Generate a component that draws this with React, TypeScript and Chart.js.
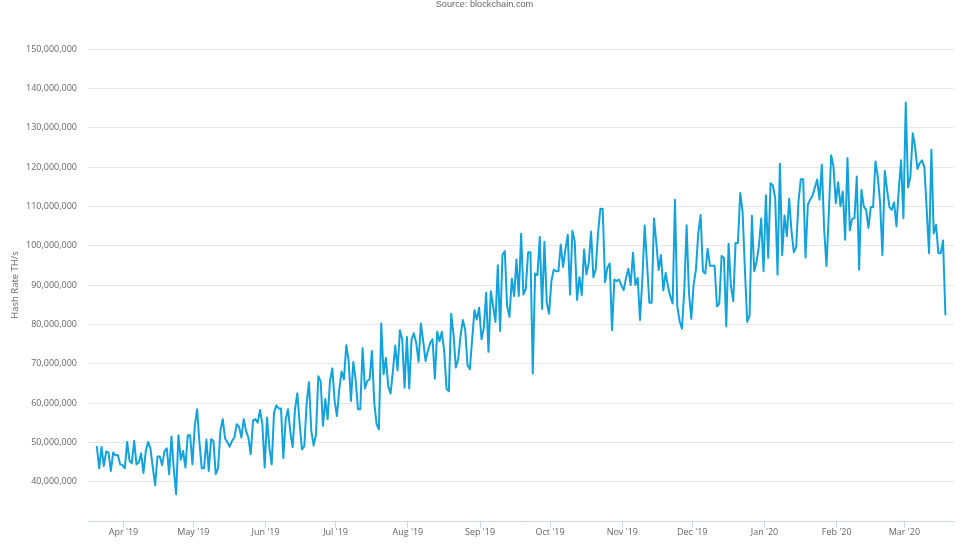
import { useEffect, useRef } from 'react'
import { Chart, registerables } from 'chart.js'

Chart.register(...registerables)

// days since 1 Apr '19 for each month tick
const monthDays = [0, 30, 61, 91, 122, 153, 183, 214, 244, 275, 306, 335]
const monthLabels = ["Apr '19", "May '19", "Jun '19", "Jul '19", "Aug '19", "Sep '19", "Oct '19", "Nov '19", "Dec '19", "Jan '20", "Feb '20", "Mar '20"]
const yTicks = [40, 50, 60, 70, 80, 90, 100, 110, 120, 130, 140, 150]

const firstDay = -11.4

// daily hash rate, millions of TH/s
const hashRate = [
  48.9, 43.4, 48.8, 44, 47.7, 47.4, 42.7, 47.4, 46.7, 46.8,
  44.4, 44.2, 43.4, 50.1, 45.3, 44.7, 50.4, 44.4, 44.9, 47.2,
  42.2, 47.8, 50.1, 48.4, 43.6, 39.1, 46.4, 46.4, 44.2, 47.7,
  48.5, 41.9, 51.5, 43.2, 36.8, 51.8, 45.6, 47.8, 43.6, 51.8,
  51.8, 44.4, 54.2, 58.4, 50, 43.4, 43.4, 50.7, 42.7, 50.8,
  50.4, 41.9, 43.4, 52.9, 55.9, 51, 50, 48.9, 50.4, 51.2,
  54.6, 54, 51.2, 55.9, 52.9, 51.2, 47, 55.5, 55.9, 55,
  58.2, 54.6, 43.6, 56.3, 48.7, 44.4, 57.5, 59.4, 58.6, 58.6,
  46, 55.9, 58.4, 52.5, 48.8, 58.4, 62.5, 54.6, 48.2, 49,
  60, 65.3, 52.9, 49.2, 52, 66.8, 65.5, 54.2, 61, 55.9,
  65.6, 68.8, 60.5, 56.7, 63.5, 68, 66, 74.7, 70.7, 60.5,
  70.4, 66, 58.4, 58.4, 74, 63.7, 65.6, 66, 73.2, 60.1,
  54.6, 53.3, 80.2, 67.3, 71.5, 64.3, 62.4, 68.1, 74.6, 68.3,
  78.5, 76.2, 63.9, 76.8, 63.7, 76.2, 77.7, 75.3, 70.5, 80.2,
  75.7, 70.7, 73.2, 75.3, 76.2, 66.2, 78.1, 75.7, 78.1, 73.2,
  63.6, 63, 82.7, 77.4, 69, 71.1, 77, 81.1, 78.7, 69.6,
  68.6, 76.2, 83.6, 81.2, 84.2, 76.2, 79.1, 88, 73, 88.4,
  84.6, 80.6, 95, 78.3, 97.7, 98.6, 84.6, 81.9, 91.6, 87.2,
  96.5, 87.2, 103, 87.6, 89, 98.3, 98.3, 67.5, 92.9, 92.5,
  102.2, 83.9, 101, 85.5, 82.7, 91, 93.9, 93.5, 93.5, 100.3,
  94.6, 99, 102.8, 87.6, 103.8, 101.1, 86.2, 92, 87.4, 99,
  92.7, 95.6, 103.6, 92, 93.9, 103.2, 109.4, 109.3, 90.7, 94.4,
  95.5, 78.5, 91.4, 91, 91.4, 89.9, 88.7, 91.8, 94.1, 90,
  98.2, 90, 91.8, 81.1, 91.4, 105.1, 95.6, 85.5, 85.5, 106.9,
  100.7, 93.8, 97.6, 88.6, 93.1, 89.7, 87.1, 85.3, 111.7, 84.6,
  80.8, 78.9, 88.8, 105.2, 88, 81.4, 90.1, 93.9, 103.2, 107.8,
  93.5, 92.9, 99.2, 94.9, 94.9, 94.9, 84.6, 85.3, 97.4, 96.9,
  79.5, 100.5, 89.7, 85.9, 100.7, 100.7, 113.4, 108.7, 93.9, 80.6,
  82.2, 107.6, 93.5, 96, 99.8, 106.9, 93.5, 112.8, 96.9, 115.9,
  115.3, 112.1, 92.6, 120.8, 97.6, 107.7, 102.4, 111.9, 103.6, 98.3,
  99.7, 111.3, 116.9, 116.9, 97, 110.4, 111.7, 112.7, 114.8, 116.8,
  111.7, 120.6, 104.1, 94.8, 108.3, 123, 120.1, 110.8, 116.1, 110,
  113.8, 101.5, 122.3, 103.9, 106.8, 107, 117.6, 93.9, 114.2, 110,
  109.1, 104.5, 109.8, 109.8, 121.4, 117.6, 110.8, 97.6, 119, 114.2,
  109.8, 109.1, 111, 104.9, 114.2, 121.7, 107, 136.4, 114.8, 117.6,
  128.6, 125.2, 119.5, 121, 121.7, 119.9, 109.1, 98.1, 124.4, 103.1,
  105.3, 98.1, 98.1, 101.3, 82.5,
]

const labelColor = '#666666'
const labelFont = { family: 'Open Sans', size: 9 }

// the source line sits centred on the page, not on the plot
const sourceLine = {
  id: 'sourceLine',
  afterDraw(chart: Chart) {
    const { ctx } = chart
    ctx.save()
    ctx.font = '9.2px "Liberation Sans"'
    ctx.fillStyle = labelColor
    ctx.textAlign = 'center'
    ctx.textBaseline = 'middle'
    ctx.fillText('Source: blockchain.com', 484.5, 4.5)
    ctx.restore()
  },
}

export default function App() {
  const canvasRef = useRef<HTMLCanvasElement>(null)

  useEffect(() => {
    const canvas = canvasRef.current
    if (!canvas) return

    const chart = new Chart(canvas, {
      type: 'line',
      data: {
        datasets: [
          {
            label: 'Hash Rate TH/s',
            data: hashRate.map((v, i) => ({ x: firstDay + i, y: v * 1e6 })),
            borderColor: '#13a3dc',
            borderWidth: 2,
            borderJoinStyle: 'round',
            borderCapStyle: 'round',
            pointRadius: 0,
            tension: 0,
            fill: false,
          },
        ],
      },
      plugins: [sourceLine],
      options: {
        animation: false,
        responsive: false,
        layout: { padding: { top: 49, left: 0, right: 12, bottom: 0 } },
        plugins: {
          legend: { display: false },
          tooltip: { enabled: false },
        },
        scales: {
          x: {
            type: 'linear',
            min: -15.2,
            max: 356.3,
            afterBuildTicks: (axis: any) => {
              axis.ticks = monthDays.map((d) => ({ value: d }))
            },
            afterFit: (axis: any) => {
              axis.height = 29
            },
            ticks: {
              autoSkip: false,
              maxRotation: 0,
              color: labelColor,
              font: labelFont,
              padding: -1,
              callback: (value: any) => monthLabels[monthDays.indexOf(Number(value))] ?? '',
            },
            grid: { drawOnChartArea: false, drawTicks: true, tickLength: 7, color: '#ccd6eb', lineWidth: 1 },
            border: { color: '#ccd6eb', width: 1 },
          },
          y: {
            type: 'linear',
            min: 30e6,
            max: 150e6,
            afterBuildTicks: (axis: any) => {
              axis.ticks = yTicks.map((v) => ({ value: v * 1e6 }))
            },
            afterFit: (axis: any) => {
              axis.width = 88
            },
            ticks: {
              color: labelColor,
              font: labelFont,
              padding: 11,
              callback: (value: any) => Number(value).toLocaleString('en-US'),
            },
            grid: { color: '#e6e6e6', lineWidth: 1, drawTicks: false },
            border: { display: false },
            title: {
              display: true,
              text: 'Hash Rate TH/s',
              color: labelColor,
              font: { family: 'Open Sans', size: 9.5 },
              padding: { top: 9.5, bottom: 0 },
            },
          },
        },
      },
    })

    return () => chart.destroy()
  }, [])

  return (
    <div style={{ position: 'fixed', left: 0, top: 0, width: 966, height: 550, background: '#fff' }}>
      <canvas ref={canvasRef} width={966} height={550} style={{ display: 'block' }} />
    </div>
  )
}
